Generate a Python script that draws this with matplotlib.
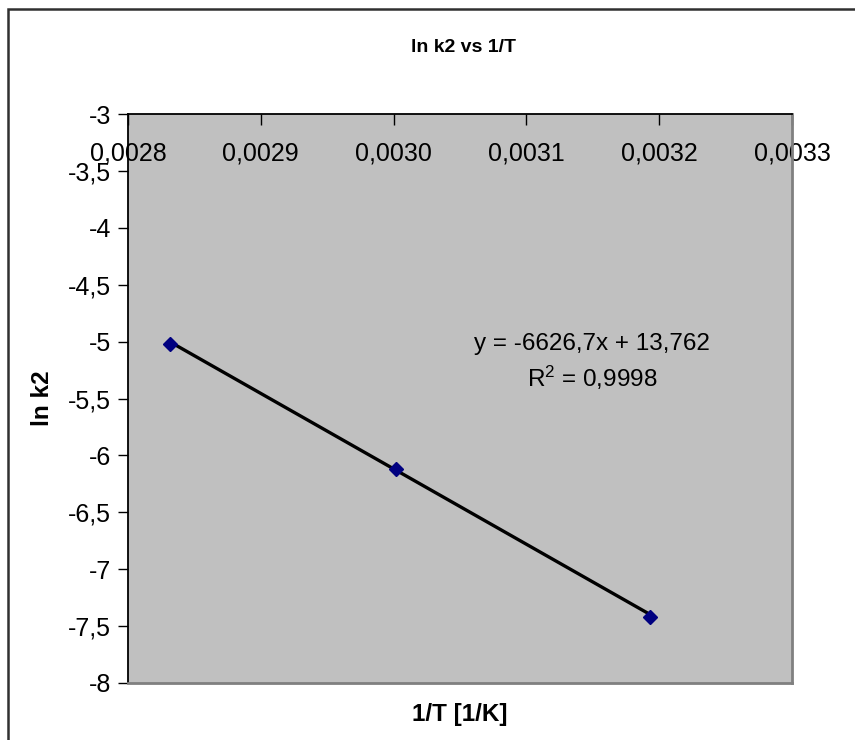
import matplotlib
matplotlib.use("Agg")
import matplotlib.pyplot as plt
import numpy as np
from matplotlib.patches import Rectangle
from matplotlib.ticker import FuncFormatter, MultipleLocator

plt.rcParams['font.family'] = ['Liberation Sans', 'DejaVu Sans']

# reaction temperatures (K) and measured ln k2
temps = [353.15, 333.15, 313.15]
ln_k2 = [-5.021, -6.120, -7.423]

# linear trendline parameters
slope = -6626.7
intercept = 13.762
r_squared = 0.9998

inv_t = [1.0 / t for t in temps]


def comma(s):
    return s.replace('.', ',')


fig = plt.figure(figsize=(8.55, 7.4), dpi=100)
ax = fig.add_axes([128 / 855, 1 - 683 / 740, (792 - 128) / 855, (683 - 114) / 740])
ax.set_facecolor('#c0c0c0')

xfit = np.array([min(inv_t), max(inv_t)])
ax.plot(xfit, slope * xfit + intercept, color='black', lw=2.4, zorder=2)
ax.plot(inv_t, ln_k2, linestyle='none', marker='D', ms=7, color='#000080',
        markeredgecolor='#000080', zorder=3)

ax.set_xlim(0.0028, 0.0033)
ax.set_ylim(-8, -3)
ax.xaxis.set_major_locator(MultipleLocator(0.0001))
ax.yaxis.set_major_locator(MultipleLocator(0.5))
ax.xaxis.set_major_formatter(FuncFormatter(lambda v, p: comma('%.4f' % v)))
ax.yaxis.set_major_formatter(FuncFormatter(lambda v, p: comma('%g' % v)))

# x axis crosses at the top; tick labels sit just under it inside the plot
ax.tick_params(axis='x', top=True, bottom=False, labeltop=True, labelbottom=False,
               direction='in', length=8, width=1, pad=-37, labelsize=18)
ax.tick_params(axis='y', direction='out', length=7, width=1, pad=5, labelsize=18)

for side in ('left', 'top'):
    ax.spines[side].set_color('black')
    ax.spines[side].set_linewidth(1.3)
for side in ('right', 'bottom'):
    ax.spines[side].set_color('#808080')
    ax.spines[side].set_linewidth(2)

fig.text(463 / 855, 1 - 47 / 740, 'ln k2 vs 1/T', ha='center', va='center',
         fontsize=14, fontweight='bold',
         family=['Liberation Sans Narrow', 'Liberation Sans', 'DejaVu Sans'])
fig.text(42 / 855, 1 - 398 / 740, 'ln k2', ha='center', va='center', rotation=90,
         fontsize=17.5, fontweight='bold')
fig.text(460 / 855, 1 - 714 / 740, '1/T [1/K]', ha='center', va='center',
         fontsize=17.5, fontweight='bold')

eq = 'y = %sx + %s' % (comma('%.1f' % slope), comma('%.3f' % intercept))
fig.text(592 / 855, 1 - 344 / 740, eq, ha='center', va='center', fontsize=17.5)
fig.text(592 / 855, 1 - 378 / 740, '$\\mathregular{R^2}$ = ' + comma('%.4f' % r_squared),
         ha='center', va='center', fontsize=17.5)

# chart frame, runs past the right and bottom edges
fig.patches.append(Rectangle((8 / 855, -0.05), 1.0, 1 - 9 / 740 + 0.05,
                             transform=fig.transFigure, fill=False,
                             edgecolor='#303030', lw=1.8))

fig.savefig('out.png', dpi=100)
